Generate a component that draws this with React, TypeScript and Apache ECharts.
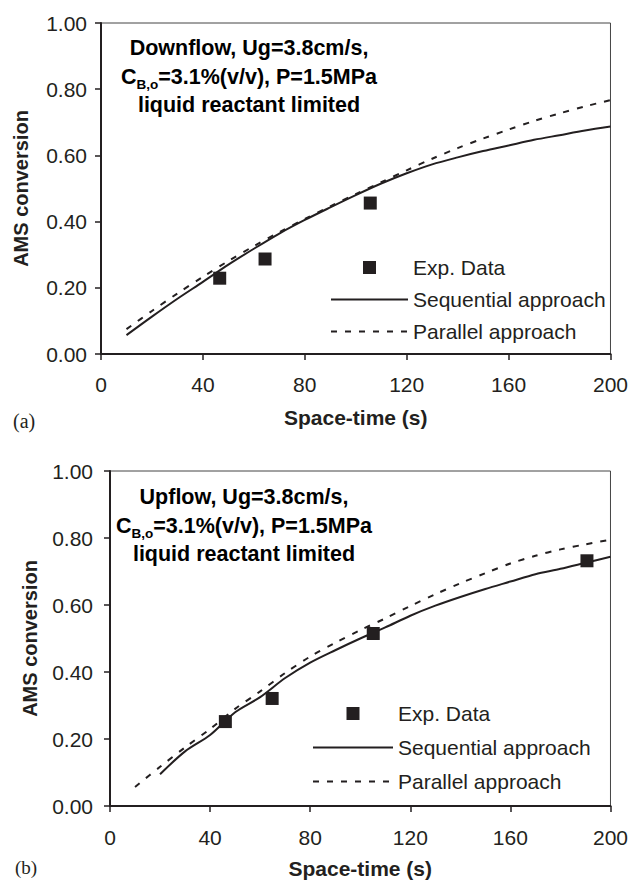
import React, { useEffect, useRef } from "react";
import * as echarts from "echarts";

// ---- data (a) Downflow ----
const topExpX = [46.6, 64.4, 105.7];
const topExpY = [0.229, 0.287, 0.456];
const topModelX = [10, 20, 30, 40, 50, 60, 70, 80, 90, 100, 110, 120, 130, 140, 150, 160, 170, 180, 190, 200];
const topSeqY = [0.057, 0.113, 0.167, 0.218, 0.27, 0.318, 0.364, 0.405, 0.443, 0.48, 0.515, 0.546, 0.573, 0.594, 0.613, 0.63, 0.647, 0.661, 0.675, 0.687];
const topParY = [0.075, 0.13, 0.183, 0.233, 0.281, 0.326, 0.368, 0.408, 0.446, 0.483, 0.519, 0.555, 0.59, 0.622, 0.651, 0.678, 0.704, 0.727, 0.748, 0.767];

// ---- data (b) Upflow ----
const botExpX = [46.1, 64.8, 105.2, 190.6];
const botExpY = [0.252, 0.321, 0.515, 0.732];
const botSeqX = [20, 30, 40, 50, 60, 70, 80, 90, 100, 110, 120, 130, 140, 150, 160, 170, 180, 190, 200];
const botSeqY = [0.095, 0.163, 0.212, 0.28, 0.325, 0.382, 0.428, 0.465, 0.5, 0.533, 0.568, 0.598, 0.624, 0.648, 0.67, 0.692, 0.708, 0.726, 0.744];
const botParX = [10, 20, 30, 40, 50, 60, 70, 80, 90, 100, 110, 120, 130, 140, 150, 160, 170, 180, 190, 200];
const botParY = [0.057, 0.117, 0.175, 0.23, 0.29, 0.342, 0.397, 0.446, 0.487, 0.525, 0.56, 0.597, 0.632, 0.665, 0.695, 0.724, 0.747, 0.766, 0.781, 0.795];

const seriesNames = ["Exp. Data", "Sequential approach", "Parallel approach"];
const xAxisTitle = "Space-time (s)";
const yAxisTitle = "AMS conversion";

const INK = "#231f20";
const FONT = "'Liberation Sans', Arial, sans-serif";
const SERIF = "'Liberation Serif', 'Times New Roman', serif";

const zip = (xs: number[], ys: number[]) => xs.map((x, i) => [x, ys[i]]);

export default function App() {
  const ref = useRef<HTMLDivElement>(null);
  useEffect(() => {
    if (!ref.current) return;
    const chart = echarts.init(ref.current, null, { renderer: "svg" });

    const mkX = (gridIndex: number, nameGap: number, margin: number) => ({
      type: "value",
      gridIndex,
      min: 0,
      max: 200,
      interval: 40,
      name: xAxisTitle,
      nameLocation: "middle",
      nameGap,
      nameTextStyle: { fontSize: 21, fontWeight: "bold", color: INK, fontFamily: FONT },
      axisLine: { show: true, lineStyle: { color: INK, width: 2 } },
      axisTick: { show: true, inside: false, length: 6, lineStyle: { color: INK, width: 1.5 } },
      axisLabel: { fontSize: 21, color: INK, fontFamily: FONT, margin },
      splitLine: { show: false },
    });
    const mkY = (gridIndex: number, nameGap: number, margin: number) => ({
      type: "value",
      gridIndex,
      min: 0,
      max: 1,
      interval: 0.2,
      name: yAxisTitle,
      nameLocation: "middle",
      nameRotate: 90,
      nameGap,
      nameTextStyle: { fontSize: 20, fontWeight: "bold", color: INK, fontFamily: FONT },
      axisLine: { show: true, lineStyle: { color: INK, width: 2 } },
      axisTick: { show: true, inside: false, length: 6, lineStyle: { color: INK, width: 1.5 } },
      axisLabel: { fontSize: 21, color: INK, fontFamily: FONT, margin, formatter: (v: number) => v.toFixed(2) },
      splitLine: { show: false },
    });

    const mkSeries = (i: number, expX: number[], expY: number[], seqX: number[], seqY: number[], parX: number[], parY: number[]) => [
      {
        name: seriesNames[0],
        type: "scatter",
        xAxisIndex: i,
        yAxisIndex: i,
        symbol: "rect",
        symbolSize: 13,
        itemStyle: { color: INK, opacity: 1 },
        data: zip(expX, expY),
        z: 5,
      },
      {
        name: seriesNames[1],
        type: "line",
        xAxisIndex: i,
        yAxisIndex: i,
        symbol: "none",
        smooth: 0.3,
        lineStyle: { color: INK, width: 2, type: "solid" },
        itemStyle: { color: INK },
        data: zip(seqX, seqY),
      },
      {
        name: seriesNames[2],
        type: "line",
        xAxisIndex: i,
        yAxisIndex: i,
        symbol: "none",
        smooth: 0.3,
        lineStyle: { color: INK, width: 2, type: [6, 8] },
        itemStyle: { color: INK },
        data: zip(parX, parY),
      },
    ];

    const mkLegend = (left: number, top: number, itemWidth: number, itemGap: number) => ({
      orient: "vertical",
      left,
      top,
      padding: 0,
      itemWidth,
      itemHeight: 13,
      itemGap,
      selectedMode: false,
      symbolKeepAspect: true,
      data: [
        { name: seriesNames[0], icon: "path://M0,0H10V10H0Z", itemStyle: { color: INK, opacity: 1 } },
        { name: seriesNames[1], itemStyle: { opacity: 0 } },
        { name: seriesNames[2], itemStyle: { opacity: 0 } },
      ],
      textStyle: { fontSize: 21, color: INK, fontFamily: FONT },
    });

    const rich = {
      b: { fontSize: 21.5, fontWeight: "bold", fontFamily: FONT, color: INK, lineHeight: 28.5 },
      s: { fontSize: 13.5, fontWeight: "bold", fontFamily: FONT, color: INK, lineHeight: 14, verticalAlign: "bottom" },
    };

    chart.setOption({
      animation: false,
      backgroundColor: "#ffffff",
      grid: [
        { left: 101, top: 23, width: 511, height: 331, show: true, borderColor: "#444", borderWidth: 1, backgroundColor: "transparent" },
        { left: 110, top: 471, width: 502, height: 335, show: true, borderColor: "#444", borderWidth: 1, backgroundColor: "transparent" },
      ],
      xAxis: [mkX(0, 53, 20), mkX(1, 52, 21)],
      yAxis: [mkY(0, 70, 14), mkY(1, 70, 17)],
      legend: [mkLegend(330, 257, 77, 11), mkLegend(312, 703, 80, 13)],
      series: [
        ...mkSeries(0, topExpX, topExpY, topModelX, topSeqY, topModelX, topParY),
        ...mkSeries(1, botExpX, botExpY, botSeqX, botSeqY, botParX, botParY),
      ],
      graphic: [
        {
          type: "text",
          x: 249,
          y: 34,
          style: {
            text: "{b|Downflow, Ug=3.8cm/s,}\n{b|C}{s|B,o}{b|=3.1%(v/v), P=1.5MPa}\n{b|liquid reactant limited}",
            align: "center",
            verticalAlign: "top",
            rich,
          },
        },
        {
          type: "text",
          x: 244,
          y: 483,
          style: {
            text: "{b|Upflow, Ug=3.8cm/s,}\n{b|C}{s|B,o}{b|=3.1%(v/v), P=1.5MPa}\n{b|liquid reactant limited}",
            align: "center",
            verticalAlign: "top",
            rich,
          },
        },
        {
          type: "text",
          x: 13,
          y: 421,
          style: { text: "(a)", fontSize: 20, fontFamily: SERIF, fill: INK, verticalAlign: "middle" },
        },
        {
          type: "text",
          x: 15,
          y: 867,
          style: { text: "(b)", fontSize: 19, fontFamily: SERIF, fill: INK, verticalAlign: "middle" },
        },
      ],
    });

    return () => chart.dispose();
  }, []);

  return <div ref={ref} style={{ position: "fixed", left: 0, top: 0, width: 631, height: 880 }} />;
}
